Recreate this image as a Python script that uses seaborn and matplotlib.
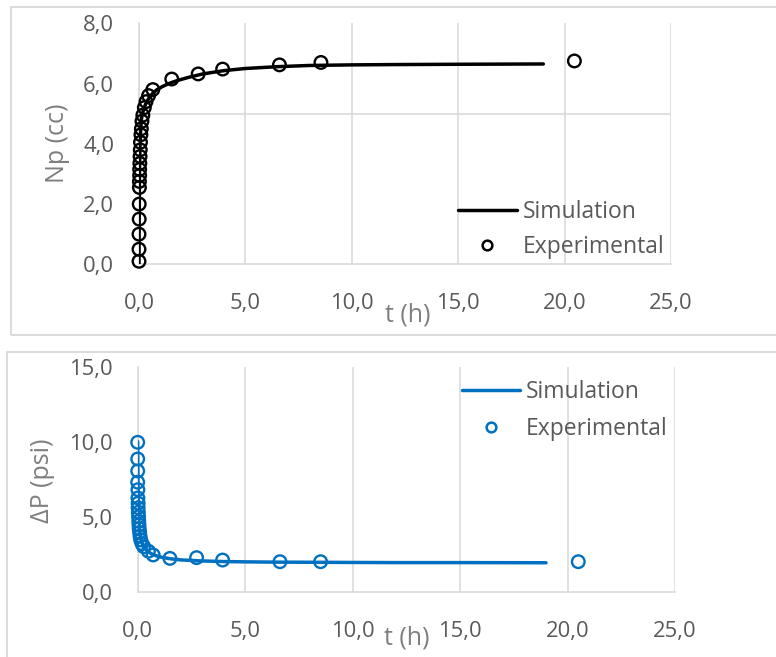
import matplotlib
matplotlib.use("Agg")
import matplotlib.pyplot as plt
from matplotlib.ticker import FixedLocator, FuncFormatter
from matplotlib.lines import Line2D
from matplotlib.patches import Rectangle
import seaborn as sns
import pandas as pd

# ---- data -------------------------------------------------------------
# Cumulative production (Np) – simulation curve
t_sim_np = [0, 0.005, 0.01, 0.02, 0.03, 0.05, 0.08, 0.12, 0.2, 0.3, 0.45, 0.65,
            0.85, 1.1, 1.4, 1.8, 2.3, 3.0, 4.0, 5.0, 6.5, 8.0, 10.0, 12.0, 15.0, 19.0]
np_sim = [0, 0.8, 1.6, 2.6, 3.3, 4.0, 4.5, 4.85, 5.1, 5.3, 5.5, 5.68,
          5.8, 5.9, 6.0, 6.1, 6.2, 6.32, 6.43, 6.5, 6.56, 6.6, 6.62, 6.63, 6.64, 6.65]

# Cumulative production (Np) – experimental points
t_exp_np = [0.0, 0.0, 0.0, 0.01, 0.01, 0.02, 0.02, 0.03, 0.03, 0.04, 0.05, 0.06,
            0.07, 0.09, 0.11, 0.14, 0.18, 0.25, 0.33, 0.45, 0.65, 1.54, 2.78,
            3.93, 6.6, 8.55, 20.46]
np_exp = [0.1, 0.5, 1.0, 1.5, 2.0, 2.55, 2.75, 2.95, 3.15, 3.35, 3.58, 3.8,
          4.05, 4.3, 4.5, 4.75, 4.95, 5.2, 5.4, 5.6, 5.8, 6.15, 6.32,
          6.48, 6.62, 6.70, 6.75]

# Pressure drop (dP) – simulation curve
t_sim_dp = [0, 0.005, 0.01, 0.02, 0.03, 0.05, 0.08, 0.12, 0.2, 0.3, 0.45, 0.65,
            0.85, 1.1, 1.5, 2.0, 3.0, 4.0, 5.0, 6.5, 8.5, 10.0, 12.0, 15.0, 19.0]
dp_sim = [10.0, 9.0, 8.0, 6.8, 5.9, 4.9, 4.2, 3.7, 3.25, 2.95, 2.7, 2.52,
          2.4, 2.3, 2.2, 2.12, 2.05, 2.01, 1.99, 1.97, 1.96, 1.95, 1.94, 1.94, 1.93]

# Pressure drop (dP) – experimental points
t_exp_dp = [0, 0, 0, 0, 0.01, 0.01, 0.02, 0.02, 0.03, 0.04, 0.05, 0.06, 0.07,
            0.09, 0.11, 0.14, 0.2, 0.28, 0.5, 0.72, 1.5, 2.74, 3.95, 6.62, 8.51, 20.5]
dp_exp = [9.96, 8.85, 8.05, 7.3, 6.8, 6.25, 5.9, 5.6, 5.3, 5.0, 4.7, 4.45, 4.2,
          3.95, 3.7, 3.45, 3.2, 3.0, 2.7, 2.45, 2.22, 2.27, 2.11, 2.0, 2.0, 2.0]

x_ticks = [0, 5, 10, 15, 20, 25]
legend_labels = ["Simulation", "Experimental"]

# ---- style ------------------------------------------------------------
sns.set_theme(style="white")
plt.rcParams["font.family"] = ["Open Sans", "DejaVu Sans"]

TXT = "#595959"
LBL = "#7f7f7f"
GRID = "#d9d9d9"
BLUE = "#0070c0"

W, H = 776, 657
fig = plt.figure(figsize=(W / 100, H / 100), dpi=100)


def px_axes(left, right, top, bottom):
    return fig.add_axes([left / W, 1 - bottom / H, (right - left) / W, (bottom - top) / H])


def comma(v, _):
    return f"{v:.1f}".replace(".", ",")


def style_axes(ax, ymax, ystep, ygrid):
    ax.set_xlim(0, 25)
    ax.set_ylim(0, ymax)
    ax.xaxis.set_major_locator(FixedLocator(x_ticks))
    ax.yaxis.set_major_locator(FixedLocator([v * ystep for v in range(int(ymax / ystep) + 1)]))
    ax.yaxis.set_minor_locator(FixedLocator(ygrid))
    ax.xaxis.set_major_formatter(FuncFormatter(comma))
    ax.yaxis.set_major_formatter(FuncFormatter(comma))
    ax.grid(False)
    ax.grid(True, axis="x", which="major", color=GRID, lw=1.1)
    ax.grid(True, axis="y", which="minor", color=GRID, lw=1.1)
    ax.tick_params(axis="y", which="minor", length=0)
    ax.tick_params(axis="x", which="major", direction="out", length=5, width=1.1,
                   color=GRID, labelsize=15.8, labelcolor=TXT, pad=16)
    ax.tick_params(axis="y", which="major", direction="out", length=6, width=1.1,
                   color=GRID, labelsize=15.8, labelcolor=TXT, pad=12)
    for s in ("top", "right"):
        ax.spines[s].set_visible(False)
    for s in ("left", "bottom"):
        ax.spines[s].set_color(GRID)
        ax.spines[s].set_linewidth(1.1)
    ax.set_axisbelow(True)


# panel frames
fig.add_artist(Rectangle((11 / W, 1 - 335 / H), 1.0, (335 - 6.5) / H, transform=fig.transFigure,
                         fill=False, ec=GRID, lw=1.3))
fig.add_artist(Rectangle((7 / W, -0.1), 1.0, 0.1 + 1 - 351.5 / H, transform=fig.transFigure,
                         fill=False, ec=GRID, lw=1.3))

# ---- top panel: Np ----------------------------------------------------
ax1 = px_axes(139, 671, 23.3, 264.3)
style_axes(ax1, 8, 2, [5])
sim1 = pd.DataFrame({"t": t_sim_np, "v": np_sim})
exp1 = pd.DataFrame({"t": t_exp_np, "v": np_exp})
sns.lineplot(data=sim1, x="t", y="v", ax=ax1, color="black", lw=2.5, sort=False,
             estimator=None, zorder=3)
sns.scatterplot(data=exp1, x="t", y="v", ax=ax1, marker="o", s=82, facecolor="none",
                edgecolor="black", linewidth=1.7, clip_on=False, zorder=4)
ax1.set_xlabel("t (h)", fontsize=18, color=LBL)
ax1.set_ylabel("Np (cc)", fontsize=18, color=LBL)
ax1.xaxis.set_label_coords((407.5 - 139) / 532, (264.3 - 315) / 241)
ax1.yaxis.set_label_coords((58 - 139) / 532, (264.3 - 143) / 241)
ax1.xaxis.label.set_va("center")
ax1.yaxis.label.set_va("center")

h1 = [Line2D([], [], color="black", lw=2.5),
      Line2D([], [], color="black", ls="none", marker="o", ms=7, mfc="none", mew=1.8)]
ax1.legend(h1, legend_labels, loc="center left", bbox_to_anchor=(457.7 / W, 1 - 229.5 / H),
           bbox_transform=fig.transFigure, frameon=False, fontsize=16.5, labelcolor=TXT,
           handlelength=2.58, handletextpad=0.26, labelspacing=0.5, borderpad=0,
           borderaxespad=0)

# ---- bottom panel: dP -------------------------------------------------
ax2 = px_axes(137.7, 675, 366.7, 591.7)
style_axes(ax2, 15, 5, [10])
sim2 = pd.DataFrame({"t": t_sim_dp, "v": dp_sim})
exp2 = pd.DataFrame({"t": t_exp_dp, "v": dp_exp})
sns.lineplot(data=sim2, x="t", y="v", ax=ax2, color=BLUE, lw=2.5, sort=False,
             estimator=None, zorder=3)
sns.scatterplot(data=exp2, x="t", y="v", ax=ax2, marker="o", s=82, facecolor="none",
                edgecolor=BLUE, linewidth=1.7, clip_on=False, zorder=4)
ax2.set_xlabel("t (h)", fontsize=18, color=LBL)
ax2.set_ylabel("ΔP (psi)", fontsize=18, color=LBL)
ax2.xaxis.set_label_coords((406.5 - 137.7) / 537.3, (591.7 - 638) / 225)
ax2.yaxis.set_label_coords((42.5 - 137.7) / 537.3, (591.7 - 481) / 225)
ax2.xaxis.label.set_va("center")
ax2.yaxis.label.set_va("center")

h2 = [Line2D([], [], color=BLUE, lw=2.5),
      Line2D([], [], color=BLUE, ls="none", marker="o", ms=7, mfc="none", mew=1.8)]
ax2.legend(h2, legend_labels, loc="center left", bbox_to_anchor=(461.7 / W, 1 - 410.5 / H),
           bbox_transform=fig.transFigure, frameon=False, fontsize=16.5, labelcolor=TXT,
           handlelength=2.55, handletextpad=0.26, labelspacing=0.6, borderpad=0,
           borderaxespad=0)

fig.savefig("out.png", dpi=100)
